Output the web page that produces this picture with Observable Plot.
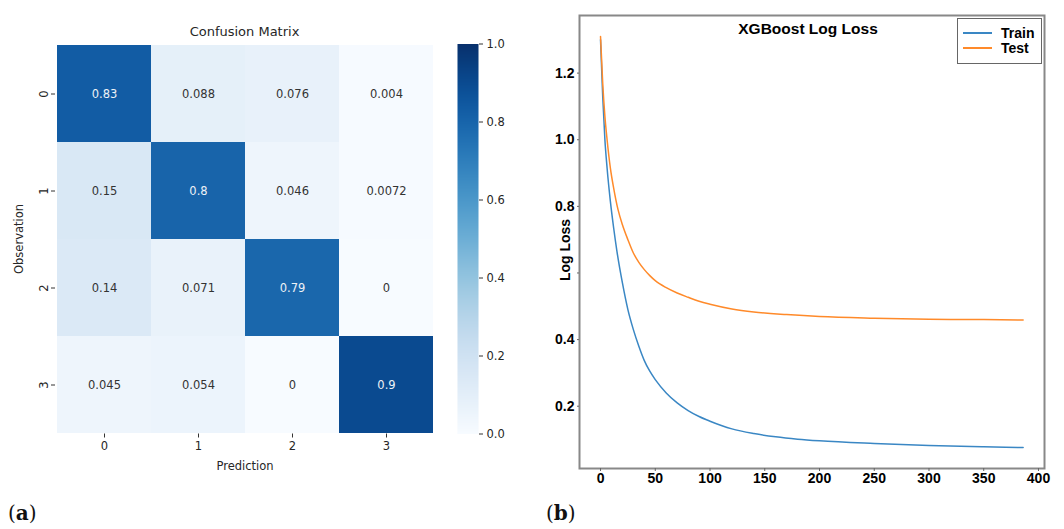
<!DOCTYPE html>
<html>
<head>
<meta charset="utf-8">
<script src="https://cdn.jsdelivr.net/npm/d3@7"></script>
<script src="https://cdn.jsdelivr.net/npm/@observablehq/plot@0.6"></script>
<style>
  body { margin: 0; background: #fff; }
  #fig { position: relative; width: 1064px; height: 529px; overflow: hidden; background: #fff; }
  .abs { position: absolute; }
  .abs svg { display: block; }
  .ttlA { font-family: "DejaVu Sans", sans-serif; font-size: 13px; color: #262626; white-space: nowrap; transform: translate(-50%, -50%); }
  .ttlB { font-family: "Liberation Sans", Arial, sans-serif; font-weight: bold; font-size: 15.5px; color: #000; white-space: nowrap; transform: translate(-50%, -50%); }
  .panel { font-family: "DejaVu Serif", "Liberation Serif", serif; font-size: 20px; color: #111; }
  .legend { border: 1.5px solid #666; background: #fff; font-family: "Liberation Sans", Arial, sans-serif; font-weight: bold; font-size: 14px; color: #000; box-sizing: border-box; }
  .legend .row { position: absolute; left: 5px; display: flex; align-items: center; white-space: nowrap; line-height: 16px; }
  .legend .sw { width: 29px; height: 0; border-top: 2px solid; margin-right: 9px; }
</style>
</head>
<body>
<div id="fig"></div>
<script>
// ---------- Data ----------
const classes = ["0", "1", "2", "3"];
const observationRows = ["0", "0", "0", "0", "1", "1", "1", "1", "2", "2", "2", "2", "3", "3", "3", "3"];
const predictionCols = ["0", "1", "2", "3", "0", "1", "2", "3", "0", "1", "2", "3", "0", "1", "2", "3"];
const cmValues = [0.83, 0.088, 0.076, 0.004,
                  0.15, 0.8, 0.046, 0.0072,
                  0.14, 0.071, 0.79, 0,
                  0.045, 0.054, 0, 0.9];
const colorbarTicks = [0, 0.2, 0.4, 0.6, 0.8, 1.0];

const trainIter = [0, 2, 4, 6, 9, 12, 15, 20, 25, 30, 35, 40, 45, 50, 60, 70, 80, 90, 100, 120, 140, 160, 180, 200, 250, 300, 350, 386];
const trainLoss = [1.30, 1.13, 1.0, 0.915, 0.815, 0.735, 0.665, 0.57, 0.49, 0.43, 0.38, 0.337, 0.305, 0.28, 0.24, 0.21, 0.187, 0.169, 0.155, 0.132, 0.118, 0.108, 0.101, 0.096, 0.088, 0.082, 0.078, 0.076];
const testIter = [0, 2, 4, 6, 9, 12, 16, 20, 25, 30, 35, 40, 45, 50, 60, 70, 80, 90, 100, 120, 140, 170, 200, 250, 300, 350, 386];
const testLoss = [1.31, 1.17, 1.07, 1.0, 0.915, 0.855, 0.79, 0.745, 0.70, 0.66, 0.632, 0.61, 0.592, 0.577, 0.556, 0.54, 0.527, 0.515, 0.506, 0.492, 0.483, 0.475, 0.469, 0.464, 0.461, 0.46, 0.459];
const xTicks = [0, 50, 100, 150, 200, 250, 300, 350, 400];
const yTicks = [0.2, 0.4, 0.6, 0.8, 1.0, 1.2];
const seriesNames = ["Train", "Test"];
const seriesColors = ["#3a87c4", "#ff8a2a"];

// ---------- Build tables ----------
const cells = cmValues.map((v, i) => ({obs: observationRows[i], pred: predictionCols[i], value: v}));
const fmt = d3.format(".2~g");
const lossData = [
  ...trainIter.map((x, i) => ({series: "Train", iter: x, loss: trainLoss[i]})),
  ...testIter.map((x, i) => ({series: "Test", iter: x, loss: testLoss[i]}))
];

const fig = document.getElementById("fig");
function place(el, left, top) {
  const d = document.createElement("div");
  d.className = "abs";
  d.style.left = left + "px";
  d.style.top = top + "px";
  d.appendChild(el);
  fig.appendChild(d);
  return d;
}
function label(text, cls, left, top) {
  const d = document.createElement("div");
  d.className = "abs " + cls;
  d.style.left = left + "px";
  d.style.top = top + "px";
  d.textContent = text;
  fig.appendChild(d);
  return d;
}

// ---------- Panel (a): confusion matrix ----------
const heat = Plot.plot({
  width: 444, height: 473,
  marginLeft: 55, marginRight: 10, marginTop: 43.5, marginBottom: 39.5,
  style: {fontFamily: "DejaVu Sans, sans-serif", fontSize: "11.5px", color: "#262626", background: "transparent"},
  x: {domain: classes, padding: 0},
  y: {domain: classes, padding: 0},
  color: {type: "linear", scheme: "blues", domain: [0, 1]},
  marks: [
    Plot.cell(cells, {x: "pred", y: "obs", fill: "value", inset: 0}),
    Plot.text(cells, {x: "pred", y: "obs", text: d => fmt(d.value),
      fill: d => d.value > 0.5 ? "#eef2f7" : "#333333", fontSize: 11.5}),
    Plot.axisX({tickSize: 4, tickPadding: 4, stroke: "#333", label: "Prediction", labelAnchor: "center", labelOffset: 36, fontSize: 11.5}),
    Plot.axisY({tickSize: 4, tickPadding: 4, stroke: "#333", tickRotate: -90, label: "Observation", labelAnchor: "center", labelOffset: 41, fontSize: 11.5})
  ]
});
place(heat, 0, 0);

// colorbar
const cbar = Plot.plot({
  width: 62, height: 473,
  marginLeft: 0, marginRight: 41, marginTop: 43.5, marginBottom: 39.5,
  style: {fontFamily: "DejaVu Sans, sans-serif", fontSize: "11.5px", color: "#262626", background: "transparent"},
  x: {domain: [0, 1], axis: null},
  y: {domain: [0, 1]},
  color: {type: "linear", scheme: "blues", domain: [0, 1]},
  marks: [
    Plot.raster({x1: 0, x2: 1, y1: 0, y2: 1, width: 1, height: 390, fill: (x, y) => y, imageRendering: "auto"}),
    Plot.axisY({anchor: "right", ticks: colorbarTicks, tickFormat: d3.format(".1f"), tickSize: 4, tickPadding: 4, stroke: "#333", label: null, fontSize: 11.5})
  ]
});
place(cbar, 457, 0);

label("Confusion Matrix", "ttlA", 244.5, 31);
const pa = label("(a)", "panel", 8, 501);
pa.innerHTML = "(<b>a</b>)";

// ---------- Panel (b): log loss ----------
const color = d3.scaleOrdinal(seriesNames, seriesColors);
const line = Plot.plot({
  width: 524, height: 508,
  marginLeft: 39, marginRight: 20, marginTop: 15, marginBottom: 40,
  style: {fontFamily: "Liberation Sans, Arial, sans-serif", fontSize: "14px", fontWeight: "bold", color: "#000", background: "transparent"},
  x: {domain: [-19.2, 405.5]},
  y: {domain: [0.013, 1.373]},
  color: {domain: seriesNames, range: seriesColors},
  marks: [
    Plot.line(lossData, {x: "iter", y: "loss", stroke: "series", z: "series", strokeWidth: 1.5, curve: "monotone-x"}),
    Plot.frame({stroke: "#888", strokeWidth: 2}),
    Plot.axisX({ticks: xTicks, tickSize: 3, tickPadding: 2, stroke: "#666", label: null, tickFormat: d3.format("d")}),
    Plot.axisY({ticks: yTicks, tickSize: 2, tickPadding: 3, stroke: "#666", label: null,
      tickFormat: d => Math.abs(d - 0.6) < 1e-9 ? "" : d3.format(".1f")(d)}),
    Plot.text(["Log Loss"], {frameAnchor: "left", textAnchor: "middle", dx: -14, dy: 8, rotate: -90, fontSize: 14, fontWeight: "bold", fill: "#000"})
  ]
});
place(line, 540, 0);

label("XGBoost Log Loss", "ttlB", 808, 29);

// legend
const lg = document.createElement("div");
lg.className = "abs legend";
lg.style.left = "957px"; lg.style.top = "18px";
lg.style.width = "85px"; lg.style.height = "46px";
seriesNames.forEach((name, i) => {
  const row = document.createElement("div");
  row.className = "row";
  row.style.top = (6 + i * 15) + "px";
  const sw = document.createElement("span");
  sw.className = "sw";
  sw.style.borderTopColor = color(name);
  const tx = document.createElement("span");
  tx.textContent = name;
  row.appendChild(sw); row.appendChild(tx);
  lg.appendChild(row);
});
fig.appendChild(lg);

const pb = label("(b)", "panel", 546, 501);
pb.innerHTML = "(<b>b</b>)";
</script>
</body>
</html>
